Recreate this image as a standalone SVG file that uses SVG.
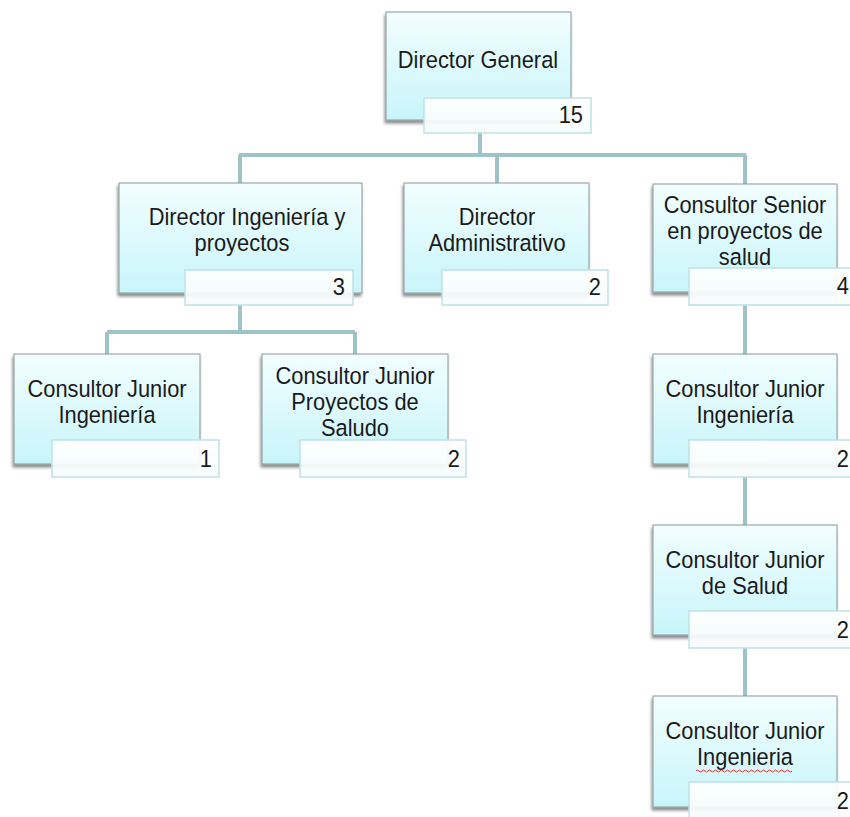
<svg xmlns="http://www.w3.org/2000/svg" width="850" height="817" viewBox="0 0 850 817">
<defs>
<linearGradient id="boxg" x1="0" y1="0" x2="0" y2="1">
<stop offset="0" stop-color="#F2FEFF"/>
<stop offset="1" stop-color="#C8F5FA"/>
</linearGradient>
<linearGradient id="numg" x1="0" y1="0" x2="0" y2="1">
<stop offset="0" stop-color="#FFFFFF"/>
<stop offset="1" stop-color="#F6FBFB"/>
</linearGradient>
<filter id="sh" x="-10%" y="-10%" width="120%" height="130%">
<feDropShadow dx="-1" dy="3" stdDeviation="1.5" flood-color="#000" flood-opacity="0.45"/>
</filter>
</defs>
<style>
.box{fill:url(#boxg);stroke:#8A9898;stroke-width:1;filter:url(#sh)}
.num{fill:url(#numg);fill-opacity:0.93;stroke:#BFE2E5;stroke-width:1.5}
.lbl{font-family:"Liberation Sans",Arial,sans-serif;font-size:23.5px;fill:#1a1a1a;text-anchor:middle;transform-box:fill-box;transform-origin:center;transform:scaleX(0.93)}
.n{font-family:"Liberation Sans",Arial,sans-serif;font-size:23.5px;fill:#1a1a1a;text-anchor:end;transform-box:fill-box;transform-origin:right;transform:scaleX(0.93)}
.c{stroke:#9EC3C6;stroke-width:4;fill:none}
</style>
<rect width="850" height="817" fill="#ffffff"/>
<g id="connectors">
<path class="c" d="M480 132 V155 M239 155 H746 M240 155 V183 M497 155 V183 M745 155 V184"/>
<path class="c" d="M240 305 V332 M107 332 H355 M107 332 V354 M355 332 V354"/>
<path class="c" d="M745 305 V354 M745 477 V525 M745 648 V696"/>
</g>
<g id="n-dg">
<rect class="box" x="386" y="12" width="185" height="108"/>
<rect class="num" x="424" y="98" width="167" height="35"/>
<text class="lbl" x="478" y="68">Director General</text>
<text class="n" x="583" y="123">15</text>
</g>
<g id="n-ding">
<rect class="box" x="119" y="183" width="243" height="110"/>
<rect class="num" x="185" y="270" width="168" height="35"/>
<text class="lbl" x="247" y="225">Director Ingeniería y</text>
<text class="lbl" x="242" y="251">proyectos</text>
<text class="n" x="345" y="295">3</text>
</g>
<g id="n-dadm">
<rect class="box" x="404" y="183" width="185" height="110"/>
<rect class="num" x="442" y="270" width="166" height="35"/>
<text class="lbl" x="497" y="225">Director</text>
<text class="lbl" x="497" y="251">Administrativo</text>
<text class="n" x="601" y="295">2</text>
</g>
<g id="n-cs">
<rect class="box" x="653" y="184" width="184" height="108"/>
<rect class="num" x="689" y="268" width="167" height="37"/>
<text class="lbl" x="745" y="213">Consultor Senior</text>
<text class="lbl" x="745" y="239">en proyectos de</text>
<text class="lbl" x="745" y="265">salud</text>
<text class="n" x="849" y="294">4</text>
</g>
<g id="n-cji1">
<rect class="box" x="14" y="354" width="186" height="110"/>
<rect class="num" x="52" y="440" width="167" height="37"/>
<text class="lbl" x="107" y="397">Consultor Junior</text>
<text class="lbl" x="107" y="423">Ingeniería</text>
<text class="n" x="212" y="467">1</text>
</g>
<g id="n-cjp">
<rect class="box" x="262" y="354" width="186" height="110"/>
<rect class="num" x="300" y="440" width="166" height="37"/>
<text class="lbl" x="355" y="384">Consultor Junior</text>
<text class="lbl" x="355" y="410">Proyectos de</text>
<text class="lbl" x="355" y="436">Saludo</text>
<text class="n" x="460" y="467">2</text>
</g>
<g id="n-cji2">
<rect class="box" x="653" y="354" width="184" height="110"/>
<rect class="num" x="689" y="440" width="167" height="37"/>
<text class="lbl" x="745" y="397">Consultor Junior</text>
<text class="lbl" x="745" y="423">Ingeniería</text>
<text class="n" x="849" y="467">2</text>
</g>
<g id="n-cjs">
<rect class="box" x="653" y="525" width="184" height="110"/>
<rect class="num" x="689" y="611" width="167" height="37"/>
<text class="lbl" x="745" y="568">Consultor Junior</text>
<text class="lbl" x="745" y="594">de Salud</text>
<text class="n" x="849" y="638">2</text>
</g>
<g id="n-cji3">
<rect class="box" x="653" y="696" width="184" height="111"/>
<rect class="num" x="689" y="782" width="167" height="37"/>
<text class="lbl" x="745" y="739">Consultor Junior</text>
<text class="lbl" x="745" y="765">Ingenieria</text>
<path d="M696 771 q1.5 -2 3 0 t3 0 t3 0 t3 0 t3 0 t3 0 t3 0 t3 0 t3 0 t3 0 t3 0 t3 0 t3 0 t3 0 t3 0 t3 0 t3 0 t3 0 t3 0 t3 0 t3 0 t3 0 t3 0 t3 0 t3 0 t3 0 t3 0 t3 0 t3 0 t3 0 t3 0 t3 0" fill="none" stroke="#E03030" stroke-width="1"/>
<text class="n" x="849" y="809">2</text>
</g>
</svg>
